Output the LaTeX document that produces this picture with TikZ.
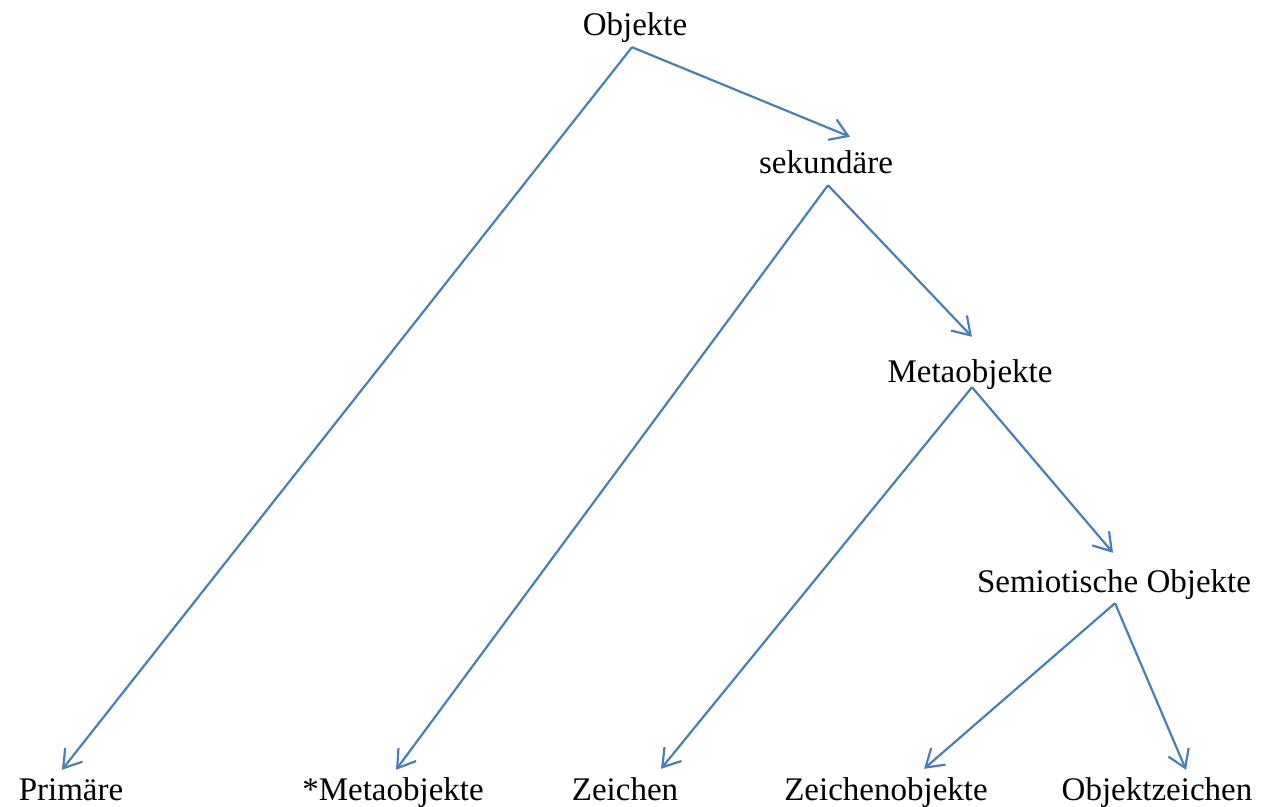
\documentclass[tikz,border=0pt]{standalone}
\usepackage{fontspec}
\setmainfont{Liberation Serif}
\usepackage{tikz}
\usetikzlibrary{arrows.meta, positioning, calc}

\definecolor{linkblue}{RGB}{74,126,187}

\begin{document}
\begin{tikzpicture}[x=1pt, y=1pt,
    lbl/.style={font=\fontsize{33}{36}\selectfont, anchor=base, inner sep=0pt,
                text height=23pt, text depth=7pt},
    leaf/.style={lbl, text depth=1pt},
    link/.style={draw=linkblue, line width=2.2pt,
                 -{Straight Barb[length=17pt, width=22pt, line width=2.2pt]}}]
  % page frame
  \useasboundingbox (0,0) rectangle (1265,-806);

  % Labels
  \node[lbl] (obj)   at (635,-35)   {Objekte};
  \node[lbl] (sek)   at (826,-173)  {sekundäre};
  \node[lbl] (meta)  at (970,-382)  {Metaobjekte};
  \node[lbl] (semi)  at (1114,-592) {Semiotische Objekte};
  \node[leaf] (prim)  at (71,-800)   {Primäre};
  \node[leaf] (mmeta) at (393,-800)  {*Metaobjekte};
  \node[leaf] (zei)   at (625,-800)  {Zeichen};
  \node[leaf] (zobj)  at (886,-800)  {Zeichenobjekte};
  \node[leaf] (ozei)  at (1157,-800) {Objektzeichen};

  % Links
  \draw[link] ([xshift=-3pt,yshift=-5pt]obj.south) -- ([xshift=24pt,yshift=13pt]sek.north);
  \draw[link] ([xshift=-3pt,yshift=-5pt]obj.south) -- ([xshift=-9pt,yshift=7pt]prim.north);
  \draw[link] ([xshift=2pt,yshift=-5pt]sek.south) -- ([xshift=3pt,yshift=7pt]mmeta.north);
  \draw[link] ([xshift=2pt,yshift=-5pt]sek.south) -- ([xshift=2pt,yshift=22pt]meta.north);
  \draw[link] ([xshift=2pt,yshift=2pt]meta.south) -- ([xshift=36pt,yshift=8pt]zei.north);
  \draw[link] ([xshift=2pt,yshift=2pt]meta.south) -- ([xshift=-1pt,yshift=16pt]semi.north);
  \draw[link] ([xshift=1pt,yshift=-4pt]semi.south) -- ([xshift=38pt,yshift=8pt]zobj.north);
  \draw[link] ([xshift=1pt,yshift=-4pt]semi.south) -- ([xshift=29pt,yshift=7pt]ozei.north);
\end{tikzpicture}
\end{document}
